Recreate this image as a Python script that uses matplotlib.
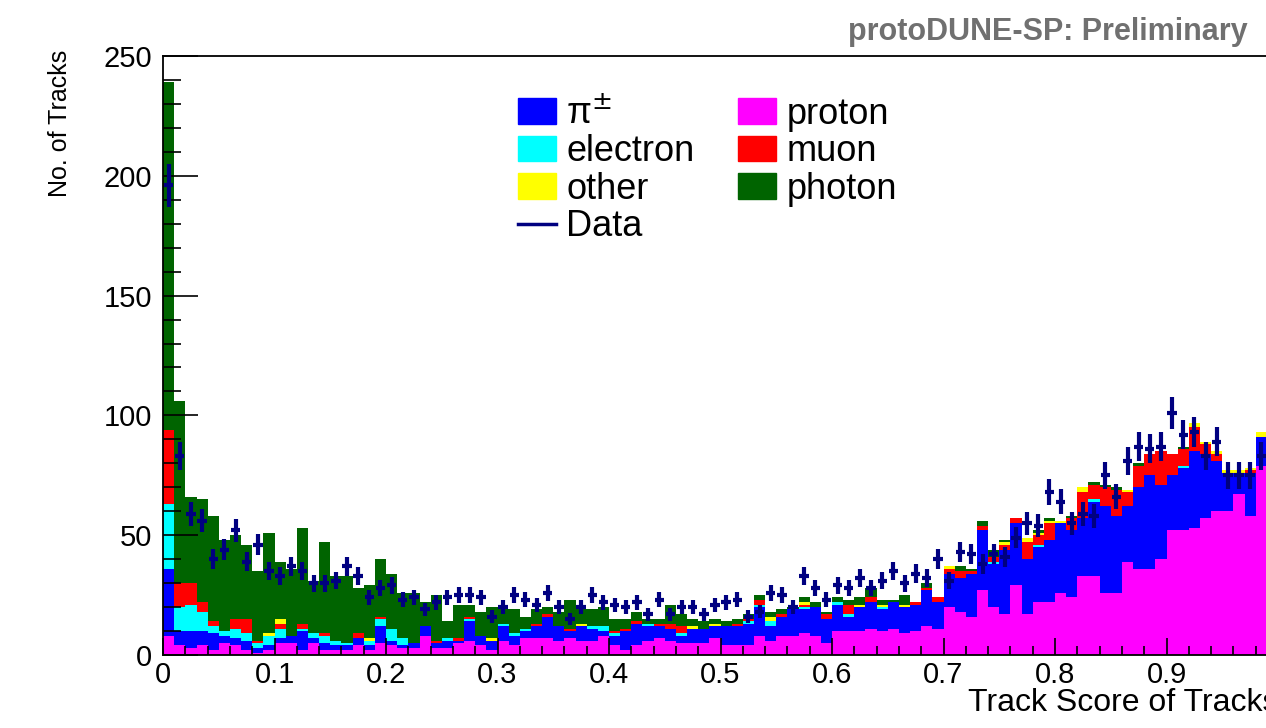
import numpy as np
import matplotlib.pyplot as plt
from matplotlib.patches import Patch
from matplotlib.lines import Line2D
from matplotlib.ticker import MultipleLocator, FixedLocator

plt.rcParams['font.family'] = ['Liberation Sans', 'DejaVu Sans']

# track score histogram, 0.01 wide bins from 0 to 0.99
edges = np.linspace(0.0, 0.99, 100)

proton = [8, 4, 3, 4, 2, 5, 4, 2, 1, 2,
          5, 5, 2, 5, 2, 2, 2, 4, 2, 5,
          4, 3, 3, 8, 3, 3, 5, 6, 4, 2,
          6, 4, 7, 7, 7, 6, 7, 6, 6, 8,
          4, 2, 4, 6, 7, 6, 5, 5, 5, 7,
          4, 4, 4, 8, 6, 8, 8, 9, 8, 5,
          10, 10, 10, 11, 10, 11, 9, 10, 12, 11,
          20, 18, 16, 27, 20, 17, 29, 17, 22, 22,
          26, 24, 33, 33, 26, 26, 39, 36, 36, 40,
          52, 52, 53, 57, 60, 60, 67, 58, 79]
pion = [28, 6, 7, 6, 7, 3, 3, 4, 2, 2,
        2, 3, 8, 2, 3, 2, 2, 3, 2, 7,
        2, 1, 2, 4, 2, 3, 1, 8, 4, 4,
        6, 4, 3, 5, 9, 6, 3, 6, 5, 2,
        4, 8, 9, 6, 5, 5, 3, 6, 6, 5,
        8, 8, 9, 12, 6, 8, 11, 10, 12, 10,
        11, 6, 10, 11, 9, 11, 11, 11, 15, 11,
        14, 14, 18, 25, 18, 27, 26, 23, 23, 26,
        29, 28, 24, 31, 36, 32, 23, 34, 39, 31,
        23, 26, 32, 27, 21, 16, 9, 18, 12]
electron = [27, 10, 11, 8, 3, 2, 4, 3, 2, 4,
            4, 0, 1, 2, 3, 2, 1, 0, 2, 3,
            5, 3, 0, 0, 0, 1, 0, 1, 0, 0,
            1, 1, 1, 0, 0, 0, 0, 0, 1, 2,
            1, 0, 0, 1, 0, 0, 1, 0, 0, 0,
            0, 0, 1, 1, 2, 0, 0, 1, 0, 0,
            1, 1, 0, 0, 1, 0, 0, 0, 0, 0,
            0, 0, 0, 0, 1, 0, 0, 0, 1, 0,
            0, 0, 0, 1, 0, 0, 0, 0, 0, 0,
            0, 1, 0, 0, 0, 0, 0, 0, 0]
muon = [31, 10, 9, 4, 2, 0, 4, 6, 1, 0,
        2, 0, 2, 0, 1, 0, 0, 2, 0, 1,
        0, 0, 0, 0, 1, 0, 1, 1, 0, 0,
        0, 0, 0, 1, 1, 0, 1, 0, 0, 0,
        1, 1, 1, 0, 1, 2, 3, 0, 0, 0,
        0, 1, 1, 2, 0, 1, 0, 1, 0, 2,
        0, 4, 0, 2, 0, 0, 0, 1, 1, 2,
        2, 3, 1, 2, 2, 2, 2, 7, 4, 7,
        0, 5, 11, 6, 8, 11, 6, 9, 9, 14,
        9, 7, 10, 4, 3, 0, 0, 1, 0]
other = [0, 0, 0, 0, 0, 0, 0, 0, 0, 1,
         2, 0, 0, 0, 0, 0, 0, 0, 1, 0,
         0, 0, 0, 0, 0, 0, 0, 0, 0, 1,
         0, 0, 0, 0, 0, 0, 0, 1, 0, 0,
         0, 0, 0, 0, 0, 0, 0, 1, 0, 1,
         0, 0, 0, 0, 2, 0, 0, 1, 0, 0,
         0, 0, 1, 0, 1, 0, 1, 0, 0, 0,
         1, 0, 0, 0, 0, 1, 0, 2, 1, 1,
         1, 0, 2, 0, 0, 0, 1, 0, 0, 0,
         0, 0, 2, 1, 1, 1, 1, 1, 2]
photon = [145, 76, 36, 43, 44, 38, 35, 31, 29, 42,
          24, 28, 40, 22, 38, 27, 28, 19, 22, 24,
          23, 19, 21, 10, 19, 7, 14, 5, 10, 13,
          6, 10, 5, 6, 3, 6, 12, 6, 7, 8,
          5, 4, 4, 2, 2, 8, 5, 3, 3, 2,
          2, 2, 2, 2, 2, 2, 1, 2, 2, 1,
          2, 2, 3, 4, 2, 1, 4, 0, 2, 0,
          0, 2, 1, 2, 3, 1, 0, 0, 1, 1,
          0, 1, 0, 1, 1, 1, 0, 1, 0, 0,
          0, 1, 0, 0, 0, 0, 0, 0, 0]
data = [196, 83, 59, 56, 40, 44, 52, 39, 46, 35,
        33, 37, 35, 30, 30, 31, 37, 33, 24, 28,
        29, 23, 24, 19, 22, 24, 25, 25, 24, 16,
        20, 25, 23, 21, 26, 20, 15, 20, 25, 22,
        21, 20, 22, 17, 23, 17, 20, 20, 17, 21,
        22, 23, 16, 18, 26, 25, 20, 33, 28, 23,
        29, 28, 32, 28, 31, 35, 30, 34, 32, 40,
        31, 43, 42, 38, 42, 41, 49, 55, 54, 68,
        64, 55, 59, 58, 75, 66, 81, 87, 86, 87,
        101, 92, 93, 83, 89, 75, 75, 75, 83]

species = ['proton', 'π$^{\\pm}$', 'electron', 'muon', 'other', 'photon']
colors = ['#ff00ff', '#0000ff', '#00ffff', '#ff0000', '#ffff00', '#006400']
navy = '#000080'

xtick_vals = [0, 0.1, 0.2, 0.3, 0.4, 0.5, 0.6, 0.7, 0.8, 0.9]
xtick_text = ['0', '0.1', '0.2', '0.3', '0.4', '0.5', '0.6', '0.7', '0.8', '0.9']

fig = plt.figure(figsize=(12.66, 7.28), dpi=100)
ax = fig.add_axes([0.1288, 0.1003, 0.8807, 0.8228])

# stacked MC, proton at the bottom
bottom = np.zeros(len(data))
for counts, c in zip([proton, pion, electron, muon, other, photon], colors):
    top = bottom + np.array(counts)
    ax.stairs(top, edges, baseline=bottom, fill=True, color=c, lw=0)
    bottom = top

centers = 0.5 * (edges[:-1] + edges[1:])
data = np.array(data)
ax.errorbar(centers, data, yerr=0.65 * np.sqrt(data), xerr=0.0042,
            fmt='none', ecolor=navy, elinewidth=3, capsize=0)

ax.set_xlim(0, 1)
ax.set_ylim(0, 250)
ax.xaxis.set_major_locator(FixedLocator(xtick_vals))
ax.set_xticklabels(xtick_text)
ax.xaxis.set_minor_locator(MultipleLocator(0.02))
ax.yaxis.set_major_locator(MultipleLocator(50))
ax.yaxis.set_minor_locator(MultipleLocator(10))
ax.tick_params(axis='both', which='both', direction='in', top=False, right=False)
ax.tick_params(axis='y', which='major', length=25, width=1.2, labelsize=21, pad=8)
ax.tick_params(axis='y', which='minor', length=13, width=1.2)
ax.tick_params(axis='x', which='major', length=12, width=1.2, labelsize=21, pad=4)
ax.tick_params(axis='x', which='minor', length=6.5, width=1.2)
for s in ax.spines.values():
    s.set_linewidth(1.3)

ax.set_xlabel('Track Score of Tracks', fontsize=23, loc='right')
ax.xaxis.set_label_coords(1.0, -0.055)
ax.set_ylabel('No. of Tracks', fontsize=18, loc='top')
ax.yaxis.set_label_coords(-0.082, 1.01)

handles = [Patch(color=colors[1]), Patch(color=colors[2]), Patch(color=colors[4]),
           Line2D([], [], color=navy, lw=2.5),
           Patch(color=colors[0]), Patch(color=colors[3]), Patch(color=colors[5])]
labels = [species[1], 'electron', 'other', 'Data', 'proton', 'muon', 'photon']
ax.legend(handles, labels, ncol=2, loc='upper left', bbox_to_anchor=(0.318, 0.932),
          frameon=False, fontsize=26, handlelength=1.05, handleheight=0.72,
          handletextpad=0.3, labelspacing=0.07, columnspacing=1.2, borderpad=0,
          borderaxespad=0)

fig.text(848 / 1266, 1 - 32 / 728, 'protoDUNE-SP: Preliminary', color='#707070',
         fontsize=22, fontweight='bold', ha='left', va='center')

fig.savefig('out.png', dpi=100)
